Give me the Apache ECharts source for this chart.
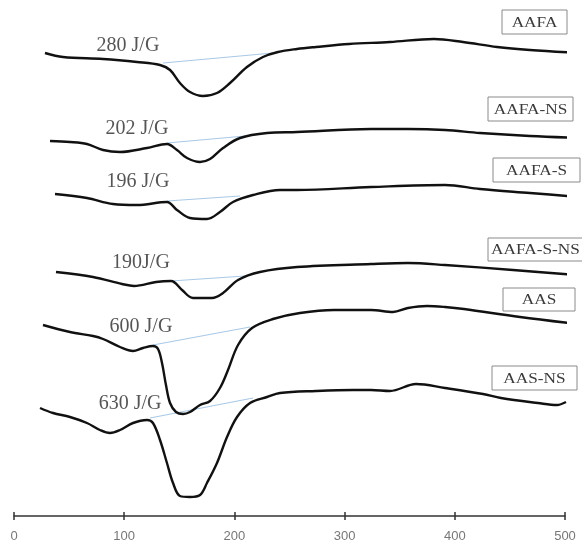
<!DOCTYPE html>
<html>
<head>
<meta charset="utf-8">
<script src="https://cdn.jsdelivr.net/npm/echarts@6/dist/echarts.min.js"></script>
<style>html,body{margin:0;padding:0;background:#fff;}#c{width:582px;height:547px;}</style>
</head>
<body>
<div id="c"></div>
<script>
// Sample names
const samples = ['AAFA', 'AAFA-NS', 'AAFA-S', 'AAFA-S-NS', 'AAS', 'AAS-NS'];
// Enthalpy labels
const enthalpyLabels = ['280 J/G', '202 J/G', '196 J/G', '190J/G', '600 J/G', '630 J/G'];
// Label anchor (temperature, heat flow)
const labelT = [103.4, 111.6, 112.5, 115.2, 115.2, 105.3];
const labelY = [47.0, 38.7, 33.4, 25.3, 18.9, 11.2];

// Temperature (°C) and heat flow (arb. units, offset stacked)
const tAAFA = [28.1, 44.5, 80.8, 111.6, 132.5, 141.6, 150.6, 159.7, 171.5, 184.2, 196.0, 211.4, 225.9, 239.6, 256.8, 274.0, 304.0, 341.2, 381.1, 407.4, 438.3, 468.2, 513.6];
const hAAFA = [46.3, 45.9, 45.7, 45.4, 45.1, 44.6, 43.3, 42.4, 42.0, 42.3, 43.3, 44.9, 45.9, 46.4, 46.7, 46.9, 47.2, 47.4, 47.7, 47.4, 46.9, 46.6, 46.3];

const tAAFA_NS = [32.7, 50.8, 66.2, 80.8, 96.2, 120.7, 138.8, 147.9, 157.0, 168.8, 177.9, 189.7, 205.1, 229.6, 256.8, 324.0, 357.5, 391.1, 422.9, 468.2, 513.6];
const hAAFA_NS = [37.5, 37.4, 37.2, 36.6, 36.4, 36.8, 37.2, 36.6, 35.8, 35.4, 35.7, 36.8, 37.8, 38.3, 38.4, 38.7, 38.7, 38.6, 38.3, 38.0, 37.8];

const tAAFA_S = [37.2, 66.2, 89.8, 111.6, 138.8, 147.9, 159.7, 175.1, 186.9, 198.7, 216.9, 241.4, 256.8, 324.0, 391.1, 422.9, 468.2, 513.6];
const hAAFA_S = [32.2, 31.8, 31.2, 31.1, 31.4, 30.6, 29.8, 29.7, 30.4, 31.4, 32.1, 32.6, 32.6, 32.9, 33.1, 32.7, 32.3, 31.9];

const tAAFA_S_NS = [38.1, 71.7, 98.0, 108.9, 128.9, 142.5, 152.5, 162.4, 179.7, 189.7, 203.3, 223.2, 256.8, 324.0, 357.5, 391.1, 452.8, 510.9];
const hAAFA_S_NS = [24.4, 23.9, 23.2, 23.0, 23.4, 23.5, 22.6, 21.8, 21.8, 22.3, 23.6, 24.4, 24.9, 25.2, 25.3, 25.1, 24.6, 24.1];

const tAAS = [26.3, 50.8, 71.7, 80.8, 96.2, 108.0, 117.1, 126.1, 130.7, 134.3, 137.9, 141.6, 147.0, 153.4, 159.7, 168.8, 177.9, 186.9, 194.2, 203.3, 216.0, 235.0, 259.5, 290.4, 324.0, 343.9, 357.5, 374.8, 391.1, 408.3, 459.2, 510.9];
const hAAS = [19.1, 18.4, 18.0, 17.7, 16.9, 16.5, 16.8, 17.0, 16.7, 15.3, 13.1, 11.3, 10.4, 10.2, 10.4, 11.1, 11.5, 12.8, 14.6, 17.1, 18.8, 19.7, 20.3, 20.6, 20.6, 20.4, 20.8, 21.0, 20.9, 20.7, 19.9, 19.2];

const tAAS_NS = [23.6, 35.4, 50.8, 66.2, 78.0, 87.1, 96.2, 108.0, 120.7, 126.1, 132.5, 138.8, 144.3, 150.6, 159.7, 168.8, 175.1, 184.2, 193.3, 202.4, 214.2, 229.6, 241.4, 274.0, 307.6, 324.0, 341.2, 364.8, 391.1, 425.6, 441.9, 475.5, 492.7, 500.9];
const hAAS_NS = [10.8, 10.3, 9.9, 9.3, 8.6, 8.3, 8.6, 9.3, 9.6, 9.3, 7.6, 5.3, 3.3, 2.0, 1.9, 2.1, 3.3, 5.3, 7.9, 9.9, 11.3, 11.9, 12.3, 12.5, 12.6, 12.6, 12.5, 13.2, 12.8, 12.2, 11.8, 11.3, 11.1, 11.4];

// Integration baselines [startT, endT], [startH, endH]
const baseT = [[135.2, 235.0], [138.8, 209.6], [138.8, 205.1], [142.5, 209.6], [126.1, 214.2], [123.4, 216.9]];
const baseH = [[45.3, 46.3], [37.3, 38.0], [31.5, 32.0], [23.5, 24.0], [17.1, 18.9], [9.8, 11.8]];

const xTicks = [0, 100, 200, 300, 400, 500];

const curvesT = [tAAFA, tAAFA_NS, tAAFA_S, tAAFA_S_NS, tAAS, tAAS_NS];
const curvesH = [hAAFA, hAAFA_NS, hAAFA_S, hAAFA_S_NS, hAAS, hAAS_NS];

const zip = (a, b) => a.map((v, i) => [v, b[i]]);

const series = [];
curvesT.forEach((t, i) => {
  series.push({
    name: samples[i] + ' baseline', type: 'line', data: zip(baseT[i], baseH[i]),
    showSymbol: false, clip: false, silent: true, z: 1,
    lineStyle: { color: '#a9c9e6', width: 1.2 }
  });
  series.push({
    name: samples[i], type: 'line', data: zip(t, curvesH[i]),
    showSymbol: false, clip: false, smooth: 0.35, z: 3,
    lineStyle: { color: '#111', width: 2.4 }
  });
});
series.push({
  type: 'scatter', symbolSize: 0, clip: false, silent: true,
  data: enthalpyLabels.map((s, i) => ({ name: s, value: [labelT[i], labelY[i]] })),
  label: { show: true, position: 'inside', formatter: '{b}', color: '#2a2a2a',
    fontFamily: 'Liberation Serif', fontSize: 20 }
});

// Legend boxes layout (pixels)
const boxes = [
  { x: 502, y: 10, w: 65, h: 24 },
  { x: 488, y: 97, w: 85, h: 24 },
  { x: 493, y: 158, w: 87, h: 24 },
  { x: 488, y: 238, w: 100, h: 23 },
  { x: 503, y: 288, w: 72, h: 23 },
  { x: 492, y: 366, w: 85, h: 24 }
];
const graphic = [];
boxes.forEach((b, i) => {
  graphic.push({ type: 'rect', shape: { x: b.x, y: b.y, width: b.w, height: b.h },
    style: { fill: '#fff', stroke: '#8a8a8a', lineWidth: 1 }, z: 10 });
  const left = i === 3;
  graphic.push({ type: 'group', x: left ? b.x + 3 : b.x + b.w / 2, y: b.y + b.h / 2 + 1,
    scaleX: 1.15, z: 11,
    children: [{ type: 'text', x: 0, y: 0, z: 11,
      style: { text: samples[i], fill: '#3a3a3a', font: '15px "Liberation Serif"',
        textAlign: left ? 'left' : 'center', textVerticalAlign: 'middle' } }] });
});

const chart = echarts.init(document.getElementById('c'), null, { renderer: 'canvas' });
chart.setOption({
  animation: false,
  backgroundColor: '#fff',
  grid: { left: 14, right: 17, top: 0, bottom: 31 },
  xAxis: [{
    type: 'value', min: 0, max: 500, interval: 100, position: 'bottom',
    axisLine: { lineStyle: { color: '#333', width: 1.5 } },
    axisTick: { show: true, length: 4, lineStyle: { color: '#333', width: 1.5 } },
    axisLabel: { color: '#777', fontSize: 13, fontFamily: 'Liberation Sans', margin: 14,
      formatter: v => xTicks.includes(v) ? String(v) : '' },
    splitLine: { show: false }
  }, {
    type: 'value', min: 0, max: 500, interval: 100, position: 'bottom',
    axisLine: { show: false },
    axisTick: { show: true, inside: true, length: 4, lineStyle: { color: '#333', width: 1.5 } },
    axisLabel: { show: false }, splitLine: { show: false }
  }],
  yAxis: { type: 'value', min: 0, max: 51.6, show: false },
  graphic: graphic,
  series: series
});
</script>
</body>
</html>
